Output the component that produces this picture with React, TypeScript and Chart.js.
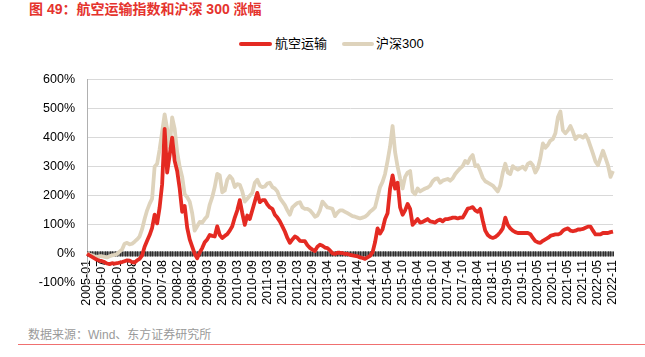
import React, { useEffect, useRef } from "react";
import { Chart, registerables } from "chart.js";

Chart.register(...registerables);

const tickLabels = [
  "2005-01", "2005-07", "2006-01", "2006-08", "2007-02", "2007-08", "2008-02", "2008-08",
  "2009-03", "2009-09", "2010-03", "2010-09", "2011-03", "2011-09", "2012-03", "2012-09",
  "2013-04", "2013-10", "2014-04", "2014-10", "2015-04", "2015-10", "2016-04", "2016-10",
  "2017-04", "2017-10", "2018-04", "2018-11", "2019-05", "2019-11", "2020-05", "2020-11",
  "2021-05", "2021-11", "2022-05", "2022-11",
];

// points between two consecutive tick labels
const pointsPerLabel = 6;

const airline = [
  0, -5, -10, -15, -20, -23,
  -25, -28, -33, -35, -32, -33,
  -32, -30, -28, -25, -22, -23,
  -28, -30, -22, -17, -5, 25,
  45, 65, 90, 135, 105, 160,
  240, 430, 280, 340, 400, 320,
  285, 225, 145, 165, 90, 50,
  25, 0, -15, 5, 20, 40,
  50, 65, 62, 60, 95, 65,
  55, 62, 68, 80, 95, 125,
  150, 185, 140, 100, 132, 120,
  150, 180, 210, 178, 185, 185,
  170, 160, 155, 135, 125, 112,
  95, 77, 55, 38, 50, 60,
  55, 45, 44, 44, 30, 21,
  15, 10, 25, 32, 28, 22,
  20, 12, 2, 0, 4, 4,
  3, 0, 0, -3, -5, -7,
  -8, -12, -14, -17, -12, -7,
  5, 40, 88, 70, 85, 120,
  140, 225, 270, 225, 245, 160,
  135, 150, 172, 155, 100, 110,
  120, 108, 110, 115, 120, 112,
  110, 108, 115, 118, 112, 120,
  120, 122, 125, 125, 122, 125,
  125, 140, 156, 158, 161, 150,
  145, 155, 115, 80, 65, 58,
  55, 58, 65, 75, 88, 125,
  100, 88, 80, 75, 72, 72,
  72, 72, 72, 68, 55, 44,
  40, 38, 45, 50, 55, 62,
  65, 67, 67, 70, 80, 85,
  88, 80, 78, 80, 84, 84,
  86, 90, 94, 94, 80, 67,
  67, 67, 72, 72, 72, 75,
  77,
];

const hs300 = [
  2, -2, -5, -8, -10, -8,
  -8, -10, -12, -8, -5, -3,
  0, 8, 15, 35, 38, 33,
  35, 42, 50, 60, 85, 120,
  150, 172, 190, 300, 310, 360,
  420, 480, 430, 365, 470, 430,
  350, 300, 265, 205, 195, 180,
  140, 80, 95, 110, 108, 120,
  130, 170, 195, 230, 275, 270,
  212, 218, 255, 268, 258, 230,
  240, 238, 215, 180, 190, 200,
  210, 245, 255, 235, 230, 232,
  242, 245, 230, 225, 215, 192,
  180, 168, 150, 135, 160, 168,
  175, 178, 160, 155, 155, 150,
  140, 128, 132, 150, 180, 170,
  160, 158, 155, 130, 142, 150,
  150, 145, 140, 135, 130, 128,
  125, 122, 125, 128, 135, 145,
  152, 160, 195, 230, 248, 275,
  320, 370, 440, 350, 300, 260,
  225, 265, 280, 285, 215, 205,
  225, 215, 220, 225, 228, 235,
  250, 258, 260, 245, 252, 255,
  258, 252, 260, 275, 285, 295,
  302, 320, 312, 330, 340, 302,
  305, 285, 262, 250, 245, 240,
  235, 225, 215, 235, 280, 310,
  280, 275, 302, 295, 290, 295,
  300, 290, 310, 315, 305, 280,
  295, 330, 380, 365, 375, 390,
  395, 415, 470, 490, 425, 415,
  425, 440, 420, 395, 405, 405,
  400, 410, 395, 370, 345, 318,
  305, 330, 355, 330, 305, 265,
  285,
];

const categories = airline.map((_, i) => i);

const seriesNames = ["航空运输", "沪深300"];
const RED = "#E42A22";
const BEIGE = "#DED3BC";

const axisBand = {
  id: "axisBand",
  beforeDatasetsDraw(chart: any) {
    const xs = chart.scales.x;
    const ys = chart.scales.y;
    const y0 = ys.getPixelForValue(0);
    const ctx = chart.ctx;
    ctx.save();
    ctx.fillStyle = "#6e6e6e";
    ctx.fillRect(xs.left, y0 - 2.5, xs.right - xs.left, 5);
    ctx.strokeStyle = "#2e2e2e";
    ctx.lineWidth = 1;
    for (let i = 0; i < categories.length; i++) {
      const x = Math.round(xs.getPixelForValue(i)) + 0.5;
      ctx.beginPath();
      ctx.moveTo(x, y0 - 2.5);
      ctx.lineTo(x, y0 + 2.5);
      ctx.stroke();
    }
    ctx.restore();
  },
};

function ChartBox() {
  const ref = useRef<HTMLCanvasElement | null>(null);
  useEffect(() => {
    if (!ref.current) return;
    const chart = new Chart(ref.current, {
      type: "line",
      data: {
        labels: categories,
        datasets: [
          {
            label: seriesNames[0],
            data: airline,
            borderColor: RED,
            backgroundColor: RED,
            borderWidth: 3.8,
            pointRadius: 0,
            tension: 0,
            borderJoinStyle: "round",
          },
          {
            label: seriesNames[1],
            data: hs300,
            borderColor: BEIGE,
            backgroundColor: BEIGE,
            borderWidth: 3.8,
            pointRadius: 0,
            tension: 0,
            borderJoinStyle: "round",
          },
        ],
      },
      options: {
        animation: false,
        responsive: false,
        maintainAspectRatio: false,
        devicePixelRatio: 1,
        layout: { padding: { left: 0, right: 32, top: 14.7, bottom: 37 } },
        plugins: {
          legend: { display: false },
          tooltip: { enabled: false },
          title: { display: false },
        },
        scales: {
          x: {
            type: "category",
            position: { y: 0 } as any,
            grid: { display: false, drawTicks: false },
            border: { display: false },
            ticks: {
              autoSkip: false,
              minRotation: 90,
              maxRotation: 90,
              padding: 6,
              color: "#000",
              font: { family: "'Liberation Sans', Arial, sans-serif", size: 12.5 },
              callback: (_v: any, idx: number) =>
                idx % pointsPerLabel === 0 ? tickLabels[idx / pointsPerLabel] : "",
            },
          },
          y: {
            min: -100,
            max: 600,
            afterFit: (scale: any) => {
              scale.width = 87;
            },
            grid: { color: "#d9d9d9", lineWidth: 1, drawTicks: false },
            border: { display: true, color: "#b0b0b0", width: 1 },
            ticks: {
              stepSize: 100,
              padding: 12,
              color: "#000",
              font: { family: "'Liberation Sans', Arial, sans-serif", size: 12.5 },
              callback: (v: any) => v + "%",
            },
          },
        },
      },
      plugins: [axisBand],
    });
    return () => chart.destroy();
  }, []);
  return (
    <canvas
      ref={ref}
      width={645}
      height={260}
      style={{ position: "absolute", left: 0, top: 60, width: 645, height: 260 }}
    />
  );
}

export default function App() {
  const cjk = "'Liberation Sans', 'Noto Sans CJK SC', sans-serif";
  return (
    <div
      style={{
        position: "fixed",
        left: 0,
        top: 0,
        width: 645,
        height: 357,
        background: "#fff",
        overflow: "hidden",
        fontFamily: cjk,
      }}
    >
      <div
        style={{
          position: "absolute",
          left: 29,
          top: 1,
          fontSize: 14,
          lineHeight: "16px",
          fontWeight: "bold",
          color: "#E5332D",
          whiteSpace: "nowrap",
        }}
      >
        图 49：航空运输指数和沪深 300 涨幅
      </div>
      <div style={{ position: "absolute", left: 239, top: 42, width: 33, height: 4, background: RED, borderRadius: 2 }} />
      <div style={{ position: "absolute", left: 275, top: 35, fontSize: 13, lineHeight: "18px", color: "#000", whiteSpace: "nowrap" }}>
        {seriesNames[0]}
      </div>
      <div style={{ position: "absolute", left: 342, top: 42, width: 32, height: 4, background: BEIGE, borderRadius: 2 }} />
      <div style={{ position: "absolute", left: 376, top: 35, fontSize: 13, lineHeight: "18px", color: "#000", whiteSpace: "nowrap" }}>
        {seriesNames[1]}
      </div>
      <ChartBox />
      <div
        style={{
          position: "absolute",
          left: 28,
          top: 327,
          fontSize: 12,
          lineHeight: "16px",
          color: "#9a9a9a",
          whiteSpace: "nowrap",
        }}
      >
        数据来源：Wind、东方证券研究所
      </div>
      <div style={{ position: "absolute", left: 18, top: 344, width: 627, height: 1, background: "#F07070" }} />
    </div>
  );
}
